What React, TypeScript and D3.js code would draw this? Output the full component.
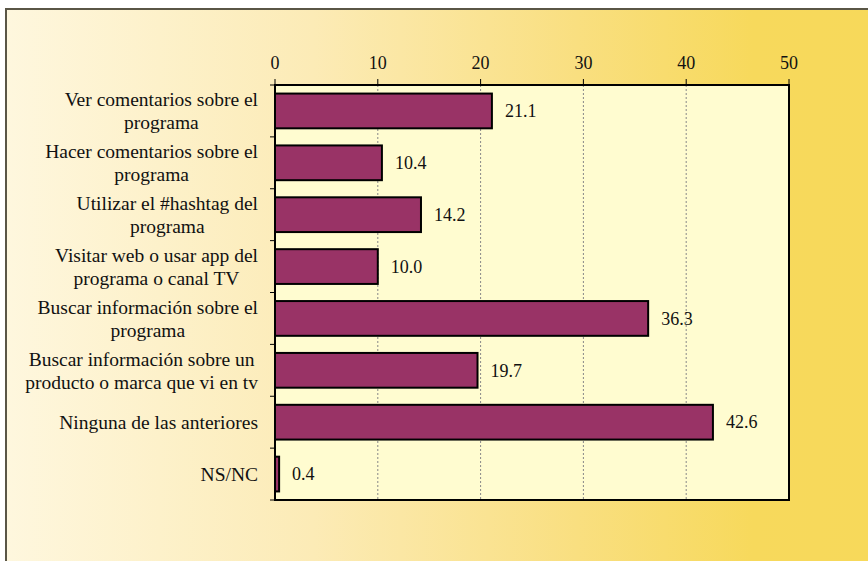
import React, { useEffect, useRef } from 'react';
import * as d3 from 'd3';

const categories: string[][] = [
  ['Ver comentarios sobre el', 'programa'],
  ['Hacer comentarios sobre el', 'programa'],
  ['Utilizar el #hashtag del', 'programa'],
  ['Visitar web o usar app del', 'programa o canal TV'],
  ['Buscar información sobre el', 'programa'],
  ['Buscar información sobre un', 'producto o marca que vi en tv'],
  ['Ninguna de las anteriores'],
  ['NS/NC'],
];
const values = [21.1, 10.4, 14.2, 10.0, 36.3, 19.7, 42.6, 0.4];
const xTicks = [0, 10, 20, 30, 40, 50];

const App: React.FC = () => {
  const ref = useRef<SVGSVGElement>(null);

  useEffect(() => {
    if (!ref.current) return;
    const svg = d3.select(ref.current);
    svg.selectAll('*').remove();

    const W = 868;
    const H = 561;
    const font = 'Liberation Serif, Times New Roman, serif';
    const fs = 18;
    const labelFs = 19.5;
    const plot = { left: 275, right: 789, top: 85, bottom: 500 };

    // fondo con degradado
    const defs = svg.append('defs');
    const grad = defs.append('linearGradient').attr('id', 'bg').attr('x1', '0').attr('x2', '1').attr('y1', '0').attr('y2', '0');
    [['0', '#fef7de'], ['0.35', '#fcebb6'], ['0.65', '#f9df80'], ['0.85', '#f7d95c'], ['1', '#f7d95a']].forEach(([o, c]) => {
      grad.append('stop').attr('offset', o).attr('stop-color', c);
    });

    svg.append('rect')
      .attr('x', 6).attr('y', 9).attr('width', W + 10).attr('height', H + 10)
      .attr('fill', 'url(#bg)').attr('stroke', '#5a5646').attr('stroke-width', 2);

    const x = d3.scaleLinear().domain([0, 50]).range([plot.left, plot.right]);
    const y = d3.scaleBand<number>()
      .domain(d3.range(categories.length))
      .range([plot.top, plot.bottom])
      .paddingInner(0.33)
      .paddingOuter(0.165);

    // área del gráfico
    svg.append('rect')
      .attr('x', plot.left).attr('y', plot.top)
      .attr('width', plot.right - plot.left).attr('height', plot.bottom - plot.top)
      .attr('fill', '#fffcd0');

    // líneas de división
    svg.append('g').selectAll('line')
      .data(xTicks.filter(t => t > 0 && t < 50))
      .enter().append('line')
      .attr('x1', d => x(d)).attr('x2', d => x(d))
      .attr('y1', plot.top).attr('y2', plot.bottom)
      .attr('stroke', '#888').attr('stroke-width', 1).attr('stroke-dasharray', '2,2');

    // barras
    svg.append('g').selectAll('rect')
      .data(values)
      .enter().append('rect')
      .attr('x', x(0))
      .attr('y', (_, i) => y(i)!)
      .attr('width', d => x(d) - x(0))
      .attr('height', y.bandwidth())
      .attr('fill', '#993366')
      .attr('stroke', '#000').attr('stroke-width', 2);

    // etiquetas de valor
    svg.append('g').selectAll('text')
      .data(values)
      .enter().append('text')
      .attr('x', d => x(d) + 13)
      .attr('y', (_, i) => y(i)! + y.bandwidth() / 2)
      .attr('dy', '0.35em')
      .style('font-family', font).style('font-size', `${fs}px`).attr('fill', '#111')
      .text(d => d.toFixed(1));

    // marco del área
    svg.append('rect')
      .attr('x', plot.left).attr('y', plot.top)
      .attr('width', plot.right - plot.left).attr('height', plot.bottom - plot.top)
      .attr('fill', 'none').attr('stroke', '#000').attr('stroke-width', 2);

    // eje superior
    const axisTop = svg.append('g');
    axisTop.selectAll('line')
      .data(xTicks)
      .enter().append('line')
      .attr('x1', d => x(d)).attr('x2', d => x(d))
      .attr('y1', plot.top - 6).attr('y2', plot.top)
      .attr('stroke', '#000').attr('stroke-width', 1);
    axisTop.selectAll('text')
      .data(xTicks)
      .enter().append('text')
      .attr('x', d => x(d)).attr('y', 63)
      .attr('dy', '0.35em')
      .attr('text-anchor', 'middle')
      .style('font-family', font).style('font-size', `${fs}px`).attr('fill', '#111')
      .text(d => d);

    // eje de categorías
    const step = y.step();
    svg.append('g').selectAll('line')
      .data(d3.range(categories.length + 1))
      .enter().append('line')
      .attr('x1', plot.left - 5).attr('x2', plot.left)
      .attr('y1', i => plot.top + i * step).attr('y2', i => plot.top + i * step)
      .attr('stroke', '#000').attr('stroke-width', 1);

    const labelRight = 258;
    const lineH = 23;
    categories.forEach((lines, i) => {
      const g = svg.append('g');
      const cy = plot.top + (i + 0.5) * step;
      const texts = lines.map((ln, j) =>
        g.append('text')
          .attr('y', cy + (j - (lines.length - 1) / 2) * lineH)
          .attr('dy', '0.35em')
          .attr('text-anchor', 'middle')
          .style('font-family', font).style('font-size', `${labelFs}px`).attr('fill', '#111')
          .text(ln)
      );
      const maxW = d3.max(texts, t => (t.node() as SVGTextElement).getComputedTextLength()) || 0;
      texts.forEach(t => t.attr('x', labelRight - maxW / 2));
    });
  }, []);

  return (
    <svg ref={ref} width={868} height={561} style={{ position: 'absolute', left: 0, top: 0, display: 'block' }} />
  );
};

export default App;
